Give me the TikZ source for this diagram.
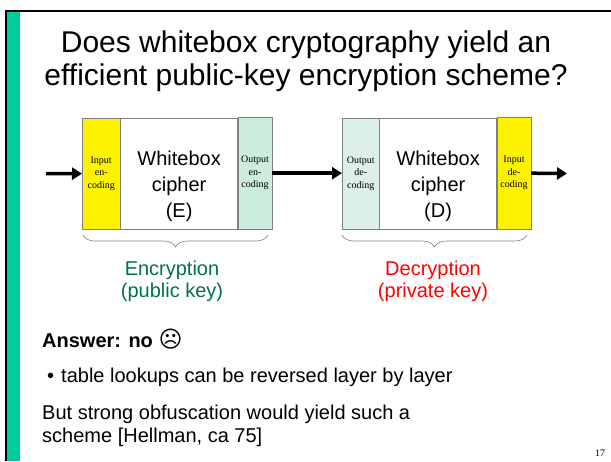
\documentclass[tikz,border=0pt]{standalone}
\usepackage{fontspec}
\setmainfont{Liberation Sans}
\newfontfamily\codingfont{Liberation Serif}
\newfontfamily\facefont{DejaVu Sans}
\usetikzlibrary{arrows.meta,decorations.pathreplacing}

\definecolor{barGreen}{RGB}{0,204,153}
\definecolor{encFill}{RGB}{204,236,221}
\definecolor{decFill}{RGB}{221,240,232}
\definecolor{encText}{RGB}{0,112,80}
\definecolor{decText}{RGB}{255,0,0}
\definecolor{boxLine}{RGB}{128,128,128}

\tikzset{
  coding/.style={draw=boxLine, minimum height=111pt, inner sep=0pt, align=center,
    font=\codingfont\fontsize{10}{12.5}\selectfont},
  cipher/.style={draw=boxLine, minimum height=111pt, minimum width=117pt, inner sep=0pt},
  ciphertext/.style={inner sep=0pt, align=center, font=\fontsize{20}{26}\selectfont},
  flow/.style={line width=3.5pt, -{Triangle[length=10pt,width=12pt]}},
  keybrace/.style={draw=boxLine, line width=0.6pt, decorate,
    decoration={brace,mirror,amplitude=12pt}},
  caption/.style={inner sep=0pt, align=center, font=\fontsize{20}{22}\selectfont},
  slidetext/.style={anchor=base west, inner sep=0pt, font=\fontsize{20}{23}\selectfont}
}

\begin{document}
\begin{tikzpicture}[x=1pt,y=-1pt]
\useasboundingbox (0,0) rectangle (611,461);
% slide frame
\fill[barGreen] (7,12) rectangle (20,461);
\draw[line width=2pt] (6,461) -- (6,11) -- (611,11);

% title
\node[anchor=base, inner sep=0pt, font=\fontsize{30}{33}\selectfont] (title1) at (306,52)
  {Does whitebox cryptography yield an};
\node[anchor=base, inner sep=0pt, font=\fontsize{30}{33}\selectfont] (title2) at (306,85)
  {efficient public-key encryption scheme?};

% encryption side
\node[coding, fill=yellow, minimum width=38pt, anchor=north west] (inE) at (82,118)
  {Input\\en-\\coding};
\node[cipher, anchor=north west] (ciphE) at (inE.north east) {};
\node[ciphertext] (ciphEtext) at ([yshift=-13pt]ciphE.center) {Whitebox\\cipher\\(E)};
\node[coding, fill=encFill, minimum width=34pt, minimum height=112pt, anchor=south west] (outE)
  at (ciphE.south east) {Output\\en-\\coding};

% decryption side
\node[coding, fill=decFill, minimum width=37pt, anchor=north west] (outD) at (342,118)
  {Output\\de-\\coding};
\node[cipher, anchor=north west] (ciphD) at (outD.north east) {};
\node[ciphertext] (ciphDtext) at ([yshift=-13pt]ciphD.center) {Whitebox\\cipher\\(D)};
\node[coding, fill=yellow, minimum width=34pt, minimum height=112pt, anchor=south west] (inD)
  at (ciphD.south east) {Input\\de-\\coding};

% data flow
\coordinate (src) at (46,173.5);
\coordinate (sink) at (567,173.5);
\draw[flow] (src) -- (inE.west);
\draw[flow] (outE.east) -- (outE.east -| outD.west);
\draw[flow] (inD.east) -- (sink);

% braces and captions
\draw[keybrace] (83,235) -- (268,235);
\draw[keybrace] (342,235) -- (527,235);
\node[caption, text=encText, anchor=base] (encCap) at (172,275) {Encryption};
\node[caption, text=encText, anchor=base] (encKey) at (172,297) {(public key)};
\node[caption, text=decText, anchor=base] (decCap) at (433,275) {Decryption};
\node[caption, text=decText, anchor=base] (decKey) at (433,297) {(private key)};

% answer
\node[slidetext] (answer) at (42,347) {\textbf{Answer: no} {\facefont\fontsize{23}{23}\selectfont ☹}};
\node[slidetext] (bullet) at (47,382) {•};
\node[slidetext] (reason) at (61,382) {table lookups can be reversed layer by layer};
\node[slidetext] (but1) at (42,419) {But strong obfuscation would yield such a};
\node[slidetext] (but2) at (42,442) {scheme [Hellman, ca 75]};
\node[anchor=base, inner sep=0pt, font=\codingfont\fontsize{10}{12}\selectfont] (pageno)
  at (600,456) {17};
\end{tikzpicture}
\end{document}
